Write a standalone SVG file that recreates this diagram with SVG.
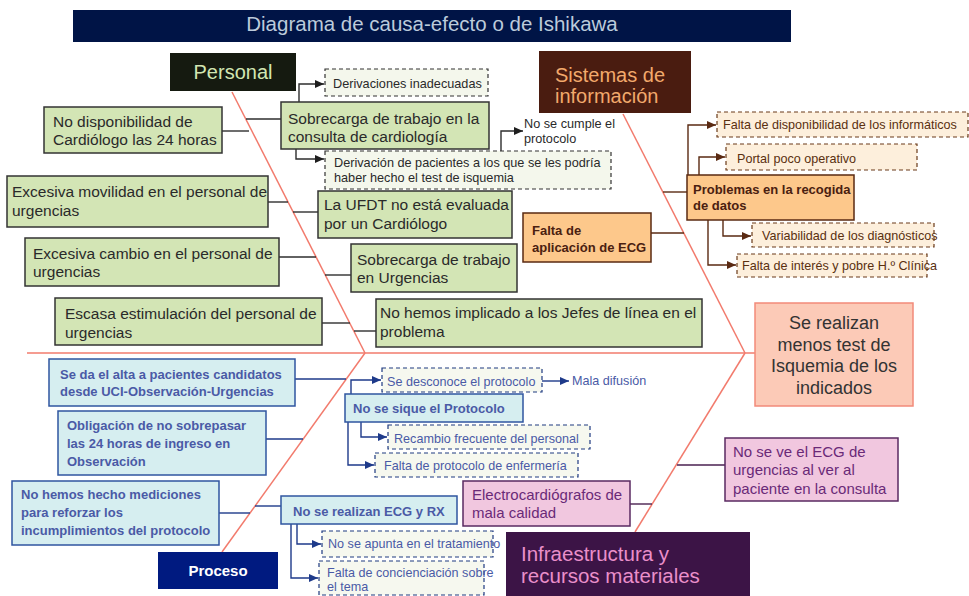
<svg xmlns="http://www.w3.org/2000/svg" width="969" height="596" viewBox="0 0 969 596">
<style>
text{font-family:"Liberation Sans",Arial,sans-serif}
.bone{stroke:#f27b6d;stroke-width:1.5;fill:none}
.ck{stroke:#2e2e2e;stroke-width:1.4;fill:none}
.cb{stroke:#5a2a12;stroke-width:1.4;fill:none}
.cn{stroke:#1e3a8a;stroke-width:1.4;fill:none}
.cp{stroke:#4a2050;stroke-width:1.4;fill:none}
.gbox{fill:#d3e5b5;stroke:#333;stroke-width:1.5}
.gdash{fill:#f4f7ec;stroke:#333;stroke-width:1.2;stroke-dasharray:4 3}
.gt{font-size:15.5px;fill:#2a2a2a}
.gs{font-size:12.7px;fill:#2a2a2a}
.obox{fill:#fdc88b;stroke:#5a2a12;stroke-width:1.5}
.odash{fill:#fdefdc;stroke:#6a3a1a;stroke-width:1.2;stroke-dasharray:4 3}
.ot{font-size:13px;font-weight:bold;fill:#4a2010}
.os{font-size:12.6px;fill:#5a3010}
.bbox{fill:#d6eef0;stroke:#2f55a0;stroke-width:1.5}
.bdash{fill:#f6f8ef;stroke:#1e3a80;stroke-width:1.2;stroke-dasharray:4 3}
.bt{font-size:13px;font-weight:bold;fill:#4a5aa6}
.bs{font-size:12.6px;fill:#4a5aa6}
.pbox{fill:#f1c7df;stroke:#5a2a62;stroke-width:1.5}
.pt{font-size:15px;fill:#6a2a78}
</style>
<defs>
<marker id="ak" markerWidth="10" markerHeight="10" refX="9" refY="5" orient="auto" markerUnits="userSpaceOnUse"><path d="M0,1 L9,5 L0,9 z" fill="#1e1e1e"/></marker>
<marker id="ab" markerWidth="10" markerHeight="10" refX="9" refY="5" orient="auto" markerUnits="userSpaceOnUse"><path d="M0,1 L9,5 L0,9 z" fill="#5a2a12"/></marker>
<marker id="an" markerWidth="10" markerHeight="10" refX="9" refY="5" orient="auto" markerUnits="userSpaceOnUse"><path d="M0,1 L9,5 L0,9 z" fill="#1e3a8a"/></marker>
</defs>
<rect width="969" height="596" fill="#ffffff"/>

<g id="title">
<rect x="73" y="10" width="718" height="32" fill="#001446"/>
<text x="432" y="31" font-size="20.5" fill="#bccbdb" text-anchor="middle">Diagrama de causa-efecto o de Ishikawa</text>
</g>

<g id="connectors">
<path class="bone" d="M27,353 H755"/>
<path class="bone" d="M232,92 L365,353"/>
<path class="bone" d="M623,114 L745,353"/>
<path class="bone" d="M365,353 L222,552"/>
<path class="bone" d="M745,353 L635,532"/>
<path class="ck" d="M222,131 H249"/>
<path class="ck" d="M246,119 H281"/>
<path class="ck" d="M299,102 V84 H324" marker-end="url(#ak)"/>
<path class="ck" d="M296,149 V159 H324" marker-end="url(#ak)"/>
<path class="ck" d="M501,151 V131 H523" marker-end="url(#ak)"/>
<path class="ck" d="M268,202 H288"/>
<path class="ck" d="M293,212 H318"/>
<path class="ck" d="M279,257 H316"/>
<path class="ck" d="M325,275 H351"/>
<path class="ck" d="M322,323 H350"/>
<path class="ck" d="M354,331 H376"/>
<path class="cb" d="M663,192 H687"/>
<path class="cb" d="M651,233 H684"/>
<path class="cb" d="M688,175 V125 H716" marker-end="url(#ab)"/>
<path class="cb" d="M699,175 V157 H725" marker-end="url(#ab)"/>
<path class="cb" d="M723,220 V236 H751" marker-end="url(#ab)"/>
<path class="cb" d="M708,220 V265 H736" marker-end="url(#ab)"/>
<path class="cn" d="M295,379 H346"/>
<path class="cn" d="M266,439 H303"/>
<path class="cn" d="M219,513 H250"/>
<path class="cn" d="M255,506 H281"/>
<path class="cn" d="M351,394 V380 H381" marker-end="url(#an)"/>
<path class="cn" d="M542,381 H569" marker-end="url(#an)"/>
<path class="cn" d="M361,422 V437 H387" marker-end="url(#an)"/>
<path class="cn" d="M348,422 V465 H374" marker-end="url(#an)"/>
<path class="cn" d="M297,524 V544 H321" marker-end="url(#an)"/>
<path class="cn" d="M291,524 V578 H318" marker-end="url(#an)"/>
<path class="cp" d="M630,504 H652"/>
<path class="cp" d="M677,465 H725"/>
</g>

<g id="personal">
<rect x="170" y="53" width="126" height="38" fill="#151a10"/>
<text x="233" y="79" font-size="20" fill="#d2e6b2" text-anchor="middle">Personal</text>
</g>

<g id="sistemas">
<rect x="539" y="51" width="152" height="62" fill="#4a1c10"/>
<text font-size="20" fill="#f2a96c"><tspan x="555" y="82">Sistemas de</tspan><tspan x="555" y="103">información</tspan></text>
</g>

<g id="derivaciones-inadecuadas">
<rect class="gdash" x="325" y="69" width="163" height="27"/>
<text class="gs" x="333" y="88">Derivaciones inadecuadas</text>
</g>

<g id="sobrecarga-consulta">
<rect class="gbox" x="281" y="102" width="208" height="47"/>
<text class="gt"><tspan x="288" y="124">Sobrecarga de trabajo en la</tspan><tspan x="288" y="142">consulta de cardiología</tspan></text>
</g>

<g id="derivacion-pacientes">
<rect class="gdash" x="325" y="151" width="286" height="38"/>
<text class="gs"><tspan x="334" y="167">Derivación de pacientes a los que se les podría</tspan><tspan x="334" y="182">haber hecho el test de isquemia</tspan></text>
</g>

<g id="no-se-cumple">
<text class="gs"><tspan x="524" y="128">No se cumple el</tspan><tspan x="524" y="143">protocolo</tspan></text>
</g>

<g id="no-disponibilidad">
<rect class="gbox" x="44" y="107" width="178" height="46"/>
<text class="gt"><tspan x="53" y="127">No disponibilidad de</tspan><tspan x="53" y="145">Cardiólogo las 24 horas</tspan></text>
</g>

<g id="excesiva-movilidad">
<rect class="gbox" x="7" y="176" width="261" height="51"/>
<text class="gt"><tspan x="12" y="197">Excesiva movilidad en el personal de</tspan><tspan x="12" y="216">urgencias</tspan></text>
</g>

<g id="ufdt">
<rect class="gbox" x="318" y="191" width="194" height="47"/>
<text class="gt"><tspan x="324" y="210">La UFDT no está evaluada</tspan><tspan x="324" y="229">por un Cardiólogo</tspan></text>
</g>

<g id="excesiva-cambio">
<rect class="gbox" x="25" y="238" width="254" height="48"/>
<text class="gt"><tspan x="33" y="259">Excesiva cambio en el personal de</tspan><tspan x="33" y="277">urgencias</tspan></text>
</g>

<g id="sobrecarga-urgencias">
<rect class="gbox" x="351" y="244" width="166" height="48"/>
<text class="gt"><tspan x="357" y="265">Sobrecarga de trabajo</tspan><tspan x="357" y="283">en Urgencias</tspan></text>
</g>

<g id="escasa-estimulacion">
<rect class="gbox" x="55" y="298" width="267" height="47"/>
<text class="gt"><tspan x="65" y="319">Escasa estimulación del personal de</tspan><tspan x="65" y="338">urgencias</tspan></text>
</g>

<g id="jefes-linea">
<rect class="gbox" x="376" y="299" width="326" height="48"/>
<text class="gt"><tspan x="380" y="318">No hemos implicado a los Jefes de línea en el</tspan><tspan x="380" y="337">problema</tspan></text>
</g>

<g id="problemas-recogida">
<rect class="obox" x="687" y="175" width="167" height="45"/>
<text class="ot"><tspan x="693" y="194">Problemas en la recogida</tspan><tspan x="693" y="210">de datos</tspan></text>
</g>

<g id="falta-aplicacion-ecg">
<rect class="obox" x="523" y="213" width="128" height="49"/>
<text class="ot"><tspan x="532" y="235">Falta de</tspan><tspan x="532" y="252">aplicación de ECG</tspan></text>
</g>

<g id="falta-informaticos">
<rect class="odash" x="717" y="112" width="251" height="25"/>
<text class="os" x="723" y="129">Falta de disponibilidad de los informáticos</text>
</g>

<g id="portal">
<rect class="odash" x="726" y="144" width="191" height="26"/>
<text class="os" x="737" y="163">Portal poco operativo</text>
</g>

<g id="variabilidad">
<rect class="odash" x="752" y="223" width="182" height="24"/>
<text class="os" x="762" y="240" font-size="11.3">Variabilidad de los diagnósticos</text>
</g>

<g id="falta-interes">
<rect class="odash" x="737" y="254" width="190" height="23"/>
<text class="os" x="742" y="270" font-size="11.3">Falta de interés y pobre H.º Clínica</text>
</g>

<g id="efecto">
<rect x="755" y="303" width="158" height="103" fill="#fccab7" stroke="#f28a7a" stroke-width="1.5"/>
<text font-size="18" fill="#333" text-anchor="middle"><tspan x="834" y="329">Se realizan</tspan><tspan x="834" y="351">menos test de</tspan><tspan x="834" y="372">Isquemia de los</tspan><tspan x="834" y="394">indicados</tspan></text>
</g>

<g id="proceso">
<rect x="158" y="552" width="120" height="37" fill="#001a80"/>
<text x="218" y="576" font-size="15" font-weight="bold" fill="#ffffff" text-anchor="middle">Proceso</text>
</g>

<g id="se-da-alta">
<rect class="bbox" x="49" y="359" width="246" height="47"/>
<text class="bt"><tspan x="60" y="379">Se da el alta a pacientes candidatos</tspan><tspan x="60" y="396">desde UCI-Observación-Urgencias</tspan></text>
</g>

<g id="obligacion">
<rect class="bbox" x="58" y="411" width="208" height="64"/>
<text class="bt"><tspan x="67" y="430">Obligación de no sobrepasar</tspan><tspan x="67" y="448">las 24 horas de ingreso en</tspan><tspan x="67" y="466">Observación</tspan></text>
</g>

<g id="mediciones">
<rect class="bbox" x="12" y="481" width="207" height="64"/>
<text class="bt"><tspan x="21" y="499">No hemos hecho mediciones</tspan><tspan x="21" y="517">para reforzar los</tspan><tspan x="21" y="535">incumplimientos del protocolo</tspan></text>
</g>

<g id="no-se-sique">
<rect class="bbox" x="345" y="394" width="178" height="28"/>
<text class="bt" x="353" y="413">No se sique el Protocolo</text>
</g>

<g id="se-desconoce">
<rect class="bdash" x="382" y="368" width="160" height="24"/>
<text class="bs" x="387" y="386">Se desconoce el protocolo</text>
</g>

<g id="mala-difusion">
<text class="bs" x="572" y="385">Mala difusión</text>
</g>

<g id="recambio">
<rect class="bdash" x="388" y="425" width="202" height="24"/>
<text class="bs" x="394" y="443">Recambio frecuente del personal</text>
</g>

<g id="falta-protocolo-enfermeria">
<rect class="bdash" x="375" y="453" width="203" height="24"/>
<text class="bs" x="384" y="470">Falta de protocolo de enfermería</text>
</g>

<g id="no-se-realizan">
<rect class="bbox" x="281" y="496" width="176" height="28"/>
<text class="bt" x="293" y="516">No se realizan ECG y RX</text>
</g>

<g id="no-se-apunta">
<rect class="bdash" x="322" y="531" width="171" height="26"/>
<text class="bs" x="328" y="548" font-size="11.1">No se apunta en el tratamiento</text>
</g>

<g id="falta-concienciacion">
<rect class="bdash" x="319" y="561" width="165" height="34"/>
<text class="bs" font-size="11.1"><tspan x="327" y="577">Falta de concienciación sobre</tspan><tspan x="327" y="591">el tema</tspan></text>
</g>

<g id="electrocardiografos">
<rect class="pbox" x="463" y="481" width="167" height="45"/>
<text class="pt"><tspan x="472" y="500">Electrocardiógrafos de</tspan><tspan x="472" y="518">mala calidad</tspan></text>
</g>

<g id="no-se-ve-ecg">
<rect class="pbox" x="725" y="438" width="173" height="63"/>
<text class="pt"><tspan x="733" y="457">No se ve el ECG de</tspan><tspan x="733" y="475">urgencias al ver al</tspan><tspan x="733" y="494">paciente en la consulta</tspan></text>
</g>

<g id="infraestructura">
<rect x="506" y="532" width="244" height="64" fill="#3c1446"/>
<text font-size="20.5" fill="#ea8fca"><tspan x="521" y="561">Infraestructura y</tspan><tspan x="521" y="583">recursos materiales</tspan></text>
</g>
</svg>
